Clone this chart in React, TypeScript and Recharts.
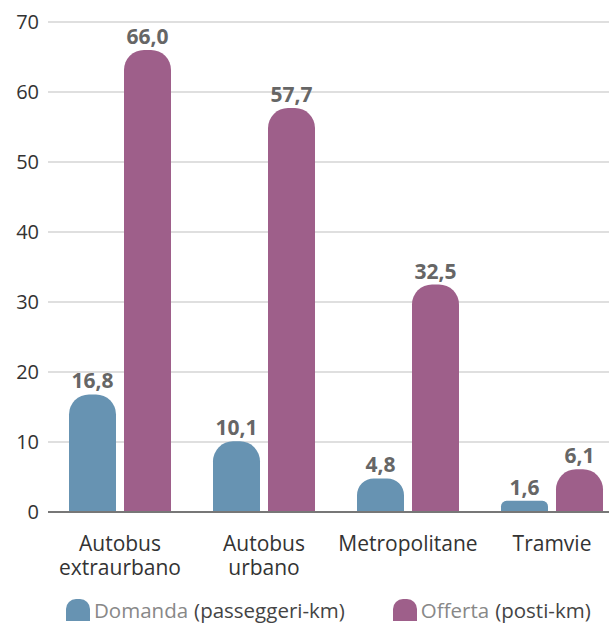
import React from "react"
import { BarChart, Bar, XAxis, YAxis, CartesianGrid, LabelList } from "recharts"

const categories = ["Autobus extraurbano", "Autobus urbano", "Metropolitane", "Tramvie"]
const domanda = [16.8, 10.1, 4.8, 1.6]
const offerta = [66.0, 57.7, 32.5, 6.1]
const yTicks = [0, 10, 20, 30, 40, 50, 60, 70]

const BLUE = "#6793b2"
const PURPLE = "#9e5f8a"
const FONT = "'Open Sans', sans-serif"

const data = categories.map((name, i) => ({
  name,
  domanda: domanda[i],
  offerta: offerta[i],
}))

const fmt = (v: number) => v.toFixed(1).replace(".", ",")

// one <text> per line so the two lines of a label stay separate
const CategoryTick = ({ x, y, payload }: any) => {
  const words = String(payload.value).split(" ")
  return (
    <g>
      {words.map((w, i) => (
        <text
          key={i}
          x={x}
          y={y + 31 + i * 24}
          textAnchor="middle"
          fill="#333"
          fontSize={21}
          fontFamily={FONT}
        >
          {w}
        </text>
      ))}
    </g>
  )
}

const LegendItem = ({ color, main, sub }: { color: string; main: string; sub: string }) => (
  <div style={{ display: "flex", alignItems: "center", fontFamily: FONT, fontSize: 20.5 }}>
    <div
      style={{
        width: 24,
        height: 22,
        background: color,
        borderRadius: "10px 10px 0 0",
        marginRight: 4,
      }}
    />
    <span style={{ color: "#888" }}>{main}</span>
    <span style={{ color: "#444", marginLeft: 6 }}>{sub}</span>
  </div>
)

export default function App() {
  return (
    <div
      style={{
        position: "absolute",
        left: 0,
        top: 0,
        width: 609,
        height: 625,
        background: "#fff",
        overflow: "hidden",
      }}
    >
      <BarChart
        width={624}
        height={592}
        data={data}
        margin={{ top: 22, right: 0, left: 0, bottom: 0 }}
        barSize={47}
        barGap={8}
      >
        <CartesianGrid vertical={false} stroke="#d4d4d4" strokeWidth={1.5} />
        <YAxis
          width={48}
          domain={[0, 70]}
          ticks={yTicks}
          axisLine={false}
          tickLine={false}
          tick={{ fill: "#333", fontSize: 20, fontFamily: FONT }}
          tickMargin={3}
        />
        <XAxis
          dataKey="name"
          height={80}
          interval={0}
          axisLine={{ stroke: "#777", strokeWidth: 2 }}
          tickLine={false}
          tick={<CategoryTick />}
        />
        <Bar dataKey="domanda" fill={BLUE} radius={[20, 20, 0, 0]} isAnimationActive={false}>
          <LabelList
            dataKey="domanda"
            position="top"
            offset={6}
            formatter={fmt}
            fill="#666"
            fontSize={21}
            fontWeight="bold"
            fontFamily={FONT}
          />
        </Bar>
        <Bar dataKey="offerta" fill={PURPLE} radius={[20, 20, 0, 0]} isAnimationActive={false}>
          <LabelList
            dataKey="offerta"
            position="top"
            offset={6}
            formatter={fmt}
            fill="#666"
            fontSize={21}
            fontWeight="bold"
            fontFamily={FONT}
          />
        </Bar>
      </BarChart>
      <div style={{ display: "flex", gap: 48, paddingLeft: 66, height: 35, alignItems: "center" }}>
        <LegendItem color={BLUE} main="Domanda" sub="(passeggeri-km)" />
        <LegendItem color={PURPLE} main="Offerta" sub="(posti-km)" />
      </div>
    </div>
  )
}
